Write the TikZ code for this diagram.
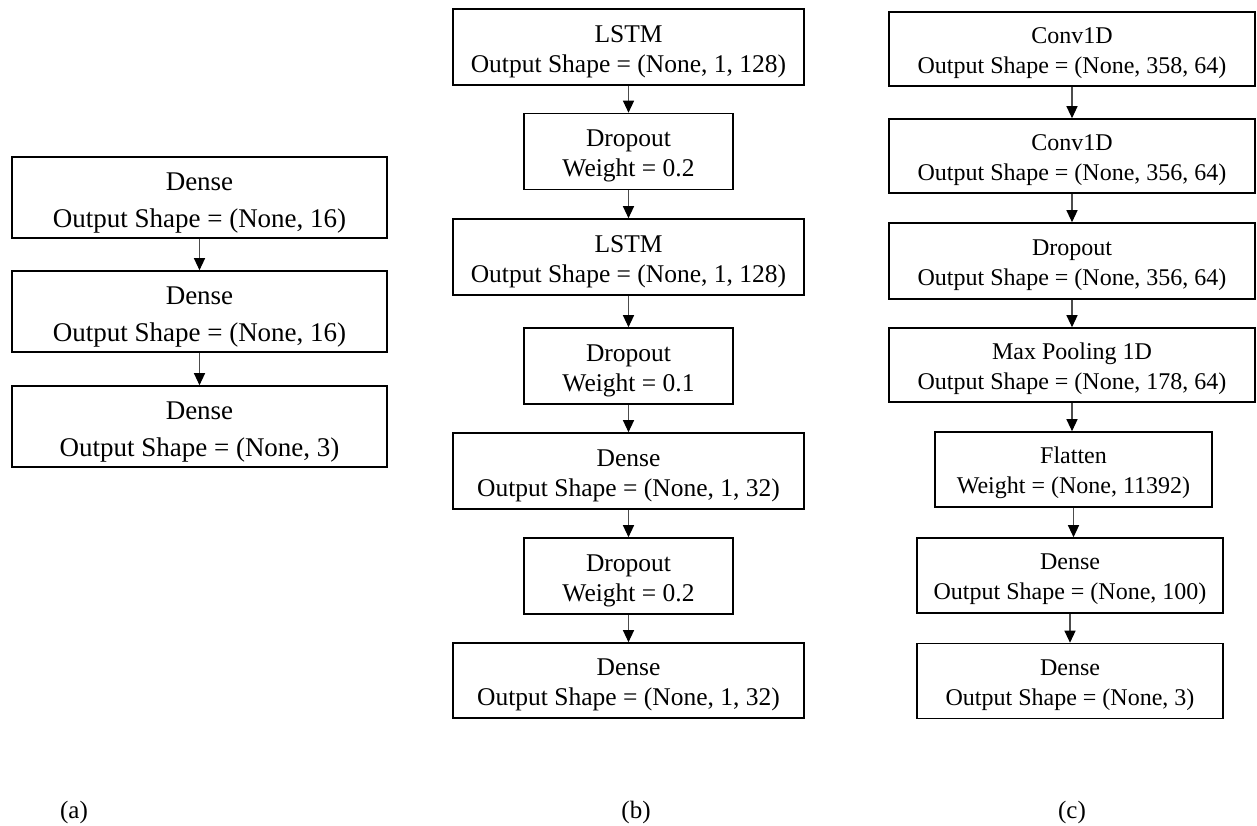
\documentclass[tikz,border=0pt]{standalone}
\usepackage{fontspec}
\setmainfont{Liberation Serif}
\usetikzlibrary{arrows.meta}
\newcommand{\twolines}[2]{\begin{tabular}[b]{@{}c@{}}#1\\#2\end{tabular}}
\begin{document}
\begin{tikzpicture}[x=1pt,y=-1pt,
  box/.style={draw=black, line width=1.6pt, rectangle, inner sep=0pt},
  fa/.style={font=\fontsize{27}{37}\selectfont, text height=59pt, text depth=0pt},
  fb/.style={font=\fontsize{25.5}{30}\selectfont, text height=50pt, text depth=0pt},
  fc/.style={font=\fontsize{24}{30}\selectfont, text height=48pt, text depth=0pt},
  conn/.style={draw=black!70, line width=1.2pt, -{Triangle[width=11pt,length=12pt,color=black]}},
  lab/.style={font=\fontsize{25}{30}\selectfont, anchor=base}]
\useasboundingbox (0,0) rectangle (1257,825);
% column (a)
\node[box,fa,minimum width=375pt,minimum height=81pt] (a1) at (199.5,197.5) {\twolines{Dense}{Output Shape = (None, 16)}};
\node[box,fa,minimum width=375pt,minimum height=81pt] (a2) at (199.5,311.5) {\twolines{Dense}{Output Shape = (None, 16)}};
\node[box,fa,minimum width=375pt,minimum height=81pt] (a3) at (199.5,426.5) {\twolines{Dense}{Output Shape = (None, 3)}};
\draw[conn] (a1.south) -- (a2.north);
\draw[conn] (a2.south) -- (a3.north);
% column (b)
\node[box,fb,minimum width=351pt,minimum height=76pt] (b1) at (628.5,47) {\twolines{LSTM}{Output Shape = (None, 1, 128)}};
\node[box,fb,minimum width=209pt,minimum height=76pt] (b2) at (628.5,151.5) {\twolines{Dropout}{Weight = 0.2}};
\node[box,fb,minimum width=351pt,minimum height=76pt] (b3) at (628.5,257) {\twolines{LSTM}{Output Shape = (None, 1, 128)}};
\node[box,fb,minimum width=209pt,minimum height=76pt] (b4) at (628.5,366) {\twolines{Dropout}{Weight = 0.1}};
\node[box,fb,minimum width=351pt,minimum height=76pt] (b5) at (628.5,471) {\twolines{Dense}{Output Shape = (None, 1, 32)}};
\node[box,fb,minimum width=209pt,minimum height=76pt] (b6) at (628.5,576) {\twolines{Dropout}{Weight = 0.2}};
\node[box,fb,minimum width=351pt,minimum height=75pt] (b7) at (628.5,680.5) {\twolines{Dense}{Output Shape = (None, 1, 32)}};
\draw[conn] (b1.south) -- (b2.north);
\draw[conn] (b2.south) -- (b3.north);
\draw[conn] (b3.south) -- (b4.north);
\draw[conn] (b4.south) -- (b5.north);
\draw[conn] (b5.south) -- (b6.north);
\draw[conn] (b6.south) -- (b7.north);
% column (c)
\node[box,fc,minimum width=366pt,minimum height=74pt] (c1) at (1072,49) {\twolines{Conv1D}{Output Shape = (None, 358, 64)}};
\node[box,fc,minimum width=366pt,minimum height=74pt] (c2) at (1072,156) {\twolines{Conv1D}{Output Shape = (None, 356, 64)}};
\node[box,fc,minimum width=366pt,minimum height=76pt] (c3) at (1072,261) {\twolines{Dropout}{Output Shape = (None, 356, 64)}};
\node[box,fc,minimum width=366pt,minimum height=74pt] (c4) at (1072,365) {\twolines{Max Pooling 1D}{Output Shape = (None, 178, 64)}};
\node[box,fc,minimum width=277pt,minimum height=75pt] (c5) at (1073.5,469.5) {\twolines{Flatten}{Weight = (None, 11392)}};
\node[box,fc,minimum width=306pt,minimum height=75pt] (c6) at (1070,575.5) {\twolines{Dense}{Output Shape = (None, 100)}};
\node[box,fc,minimum width=306pt,minimum height=75pt] (c7) at (1070,681) {\twolines{Dense}{Output Shape = (None, 3)}};
\draw[conn] (c1.south) -- (c2.north);
\draw[conn] (c2.south) -- (c3.north);
\draw[conn] (c3.south) -- (c4.north);
\draw[conn] (c4.south) -- (c4.south |- c5.north);
\draw[conn] (c5.south) -- (c5.south |- c6.north);
\draw[conn] (c6.south) -- (c7.north);
% labels
\node[lab] (la) at (74,818) {(a)};
\node[lab] (lb) at (636,818) {(b)};
\node[lab] (lc) at (1072,818) {(c)};
\end{tikzpicture}
\end{document}
